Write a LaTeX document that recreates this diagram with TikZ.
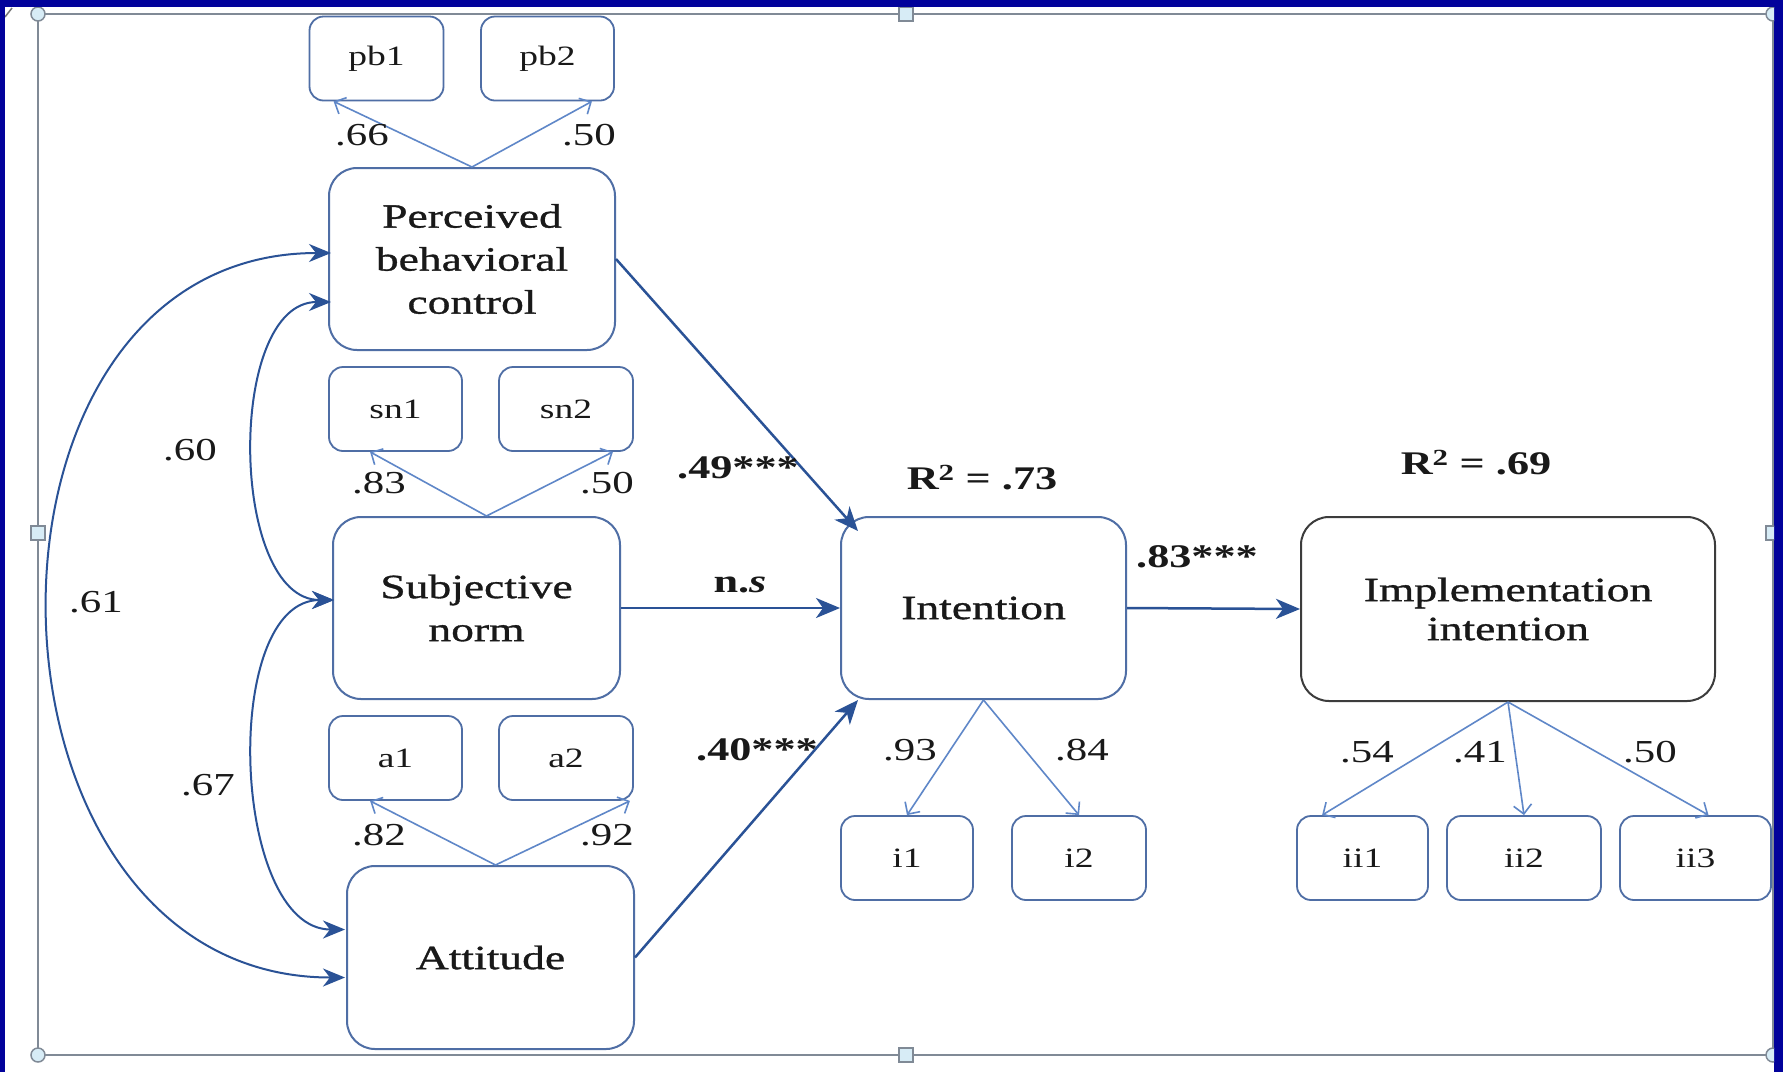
\documentclass[tikz,border=0pt]{standalone}
\usepackage{fontspec}
\setmainfont{Liberation Serif}[FakeStretch=1.34]
\newfontfamily\latentfont{Liberation Serif}[FakeStretch=1.34, FakeBold=1]
\usetikzlibrary{arrows.meta,calc}
\definecolor{bgblue}{RGB}{2,2,155}
\definecolor{boxblue}{RGB}{79,110,165}
\definecolor{arrblue}{RGB}{42,82,150}
\definecolor{lineblue}{RGB}{95,135,200}
\definecolor{framegray}{RGB}{128,138,150}
\definecolor{handlefill}{RGB}{215,236,246}
\definecolor{impgray}{RGB}{60,60,60}
\definecolor{txt}{RGB}{25,25,25}
\tikzset{
 latent/.style={draw=boxblue, line width=2pt, rounded corners=28pt, align=center, inner sep=0pt, font=\latentfont\fontsize{34}{43}\selectfont, text=txt},
 indic/.style={draw=boxblue, line width=1.8pt, rounded corners=14pt, inner sep=0pt, minimum height=84pt, font=\fontsize{28}{30}\selectfont, text=txt},
 pathar/.style={draw=arrblue, line width=2.5pt, -{Stealth[length=24pt,width=20pt,inset=7pt]}},
 corr/.style={draw=arrblue, line width=2pt, {Stealth[length=22pt,width=18pt,inset=7pt]}-{Stealth[length=22pt,width=18pt,inset=7pt]}},
 meas/.style={draw=lineblue, line width=1.6pt, -{Straight Barb[length=9pt,width=18pt]}},
 load/.style={font=\fontsize{32}{32}\selectfont, text=txt, inner sep=0pt},
 coef/.style={font=\fontsize{33}{33}\selectfont\bfseries, text=txt, inner sep=0pt},
 handle/.style={draw=framegray, line width=1.5pt, fill=handlefill},
}
\begin{document}
\begin{tikzpicture}[x=1pt,y=-1pt]
\useasboundingbox (0,0) rectangle (1783,1072);
\fill[bgblue] (0,0) rectangle (1783,1072);
\fill[white] (5,7) rectangle (1774,1072);
\begin{scope}
\clip (5,7) rectangle (1774,1072);
\draw[framegray, line width=1.5pt] (38,14) rectangle (1773,1055);
\draw[handle] (38,14) circle[radius=7pt];
\draw[handle] (1773,14) circle[radius=7pt];
\draw[handle] (38,1055) circle[radius=7pt];
\draw[handle] (1773,1055) circle[radius=7pt];
\draw[handle] (899,7) rectangle (913,21);
\draw[handle] (899,1048) rectangle (913,1062);
\draw[handle] (31,526) rectangle (45,540);
\draw[handle] (1766,526) rectangle (1780,540);
\draw[impgray!70, line width=1.5pt] (5,17) -- (12,8);
\end{scope}

% indicator boxes
\node[indic, minimum width=134pt] (pb1) at (376.5,58.5) {pb1};
\node[indic, minimum width=133pt] (pb2) at (547.5,58.5) {pb2};
\node[indic, minimum width=133pt] (sn1) at (395.5,409) {sn1};
\node[indic, minimum width=134pt] (sn2) at (566,409) {sn2};
\node[indic, minimum width=133pt] (a1) at (395.5,758) {a1};
\node[indic, minimum width=134pt] (a2) at (566,758) {a2};
\node[indic, minimum width=132pt] (i1) at (907,858) {i1};
\node[indic, minimum width=134pt] (i2) at (1079,858) {i2};
\node[indic, minimum width=131pt] (ii1) at (1362.5,858) {ii1};
\node[indic, minimum width=154pt] (ii2) at (1524,858) {ii2};
\node[indic, minimum width=151pt] (ii3) at (1695.5,858) {ii3};

% latent boxes
\node[latent, minimum width=286pt, minimum height=182pt] (pbc) at (472,259) {Perceived\\behavioral\\control};
\node[latent, minimum width=287pt, minimum height=182pt] (sn) at (476.5,608) {Subjective\\norm};
\node[latent, minimum width=287pt, minimum height=183pt] (att) at (490.5,957.5) {Attitude};
\node[latent, minimum width=285pt, minimum height=182pt] (int) at (983.5,608) {Intention};
\node[latent, draw=impgray, minimum width=414pt, minimum height=184pt, font=\latentfont\fontsize{34}{39}\selectfont] (impl) at (1508,609) {Implementation\\intention};

% structural paths
\draw[pathar] (pbc.east) -- ($(int.north west)+(18,15)$);
\draw[pathar] (sn.east) -- (int.west);
\draw[pathar] (att.east) -- ($(int.south west)+(18,0)$);
\draw[pathar] (int.east) -- (impl.west);

% correlations
\draw[corr] ($(pbc.west)+(3,-6)$) .. controls +(-385,0) and +(-385,0) .. ($(att.west)+(-1,20)$);
\draw[corr] ($(pbc.west)+(3,43)$) .. controls +(-105,0) and +(-105,0) .. ($(sn.west)+(2,-8)$);
\draw[corr] ($(sn.west)+(2,-8)$) .. controls +(-114,0) and +(-114,0) .. ($(att.west)+(-1,-28)$);

% measurement
\draw[meas] (pbc.north) -- ($(pb1.south west)+(25,0)$);
\draw[meas] (pbc.north) -- ($(pb2.south east)+(-23,0)$);
\draw[meas] ($(sn.north)+(10,0)$) -- ($(sn1.south west)+(42,0)$);
\draw[meas] ($(sn.north)+(10,0)$) -- ($(sn2.south east)+(-21,0)$);
\draw[meas] ($(att.north)+(5,0)$) -- ($(a1.south west)+(42,0)$);
\draw[meas] ($(att.north)+(5,0)$) -- ($(a2.south east)+(-4,0)$);
\draw[meas] (int.south) -- (i1.north);
\draw[meas] (int.south) -- (i2.north);
\draw[meas] (impl.south) -- ($(ii1.north west)+(26,0)$);
\draw[meas] (impl.south) -- (ii2.north);
\draw[meas] (impl.south) -- ($(ii3.north)+(13,0)$);

% loadings
\node[load] (l66) at (362,135) {.66};
\node[load] (l50a) at (589,135) {.50};
\node[load] (l83) at (379,483) {.83};
\node[load] (l50b) at (607,483) {.50};
\node[load] (l82) at (379,835) {.82};
\node[load] (l92) at (607,835) {.92};
\node[load] (l93) at (910,750) {.93};
\node[load] (l84) at (1082,750) {.84};
\node[load] (l54) at (1367,752) {.54};
\node[load] (l41) at (1480,752) {.41};
\node[load] (l50c) at (1650,752) {.50};
\node[load] (c60) at (190,450) {.60};
\node[load] (c61) at (96,602) {.61};
\node[load] (c67) at (208,785) {.67};

% coefficients
\node[coef] (b49) at (738,468) {.49***};
\node[coef] (bns) at (740,585) {n.\textit{s}};
\node[coef] (b40) at (757,750) {.40***};
\node[coef] (b83) at (1197,557) {.83***};
\node[coef] (r73) at (982,478) {R\textsuperscript{2} = .73};
\node[coef] (r69) at (1476,463) {R\textsuperscript{2} = .69};
\end{tikzpicture}
\end{document}
